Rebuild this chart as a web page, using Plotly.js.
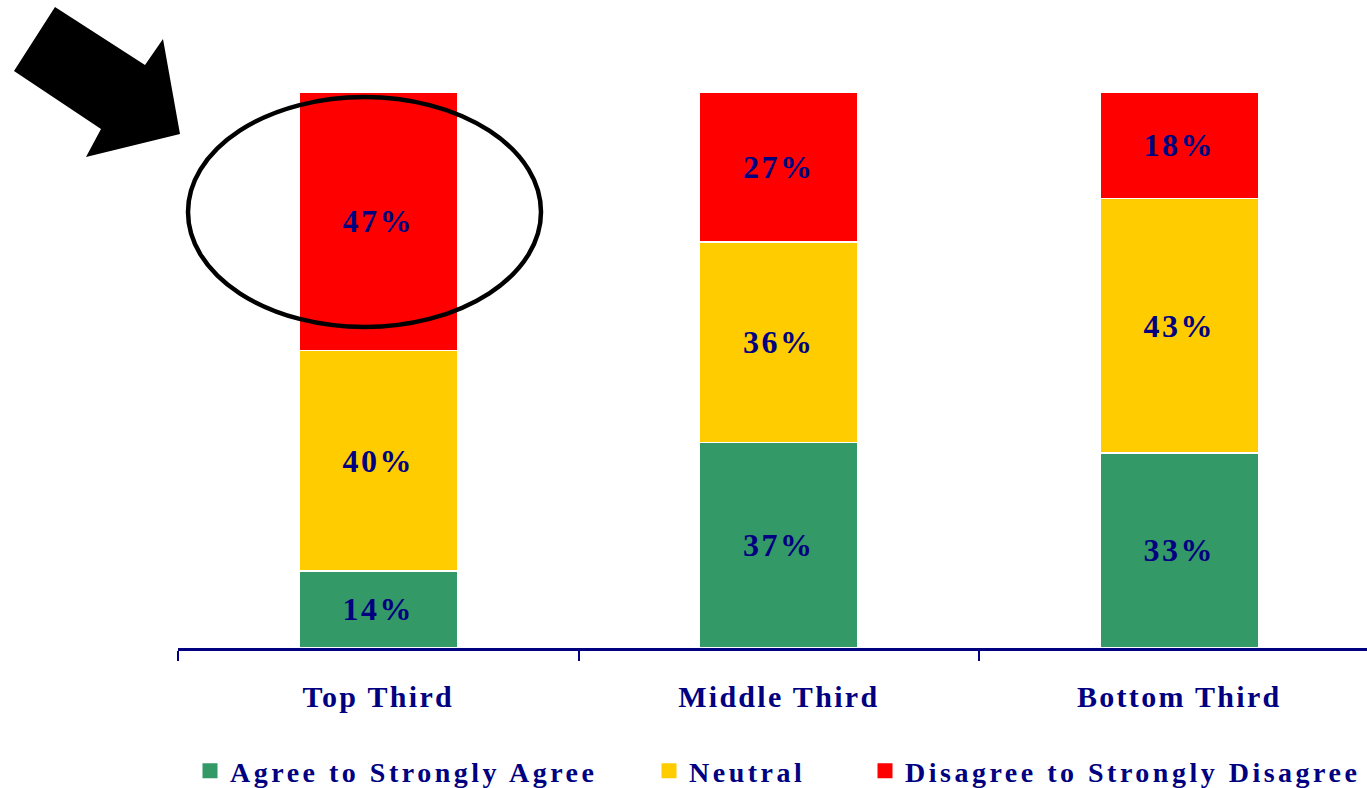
<!DOCTYPE html>
<html>
<head>
<meta charset="utf-8">
<script src="https://cdn.plot.ly/plotly-3.0.1.min.js"></script>
<style>
html,body{margin:0;padding:0;overflow:hidden;background:#fff;}
#chart{width:1367px;height:788px;}
text.legendtext, text.legend2text, text.legend3text, .legend text, .legend2 text, .legend3 text{letter-spacing:3.5px;}
.xtick text{letter-spacing:2.3px;}
text.bartext{letter-spacing:2.5px;}
g.legend .legendpoints path{stroke:#339966 !important;stroke-width:3px !important;}
g.legend2 .legendpoints path{stroke:#FFCC00 !important;stroke-width:3px !important;}
g.legend3 .legendpoints path{stroke:#FF0000 !important;stroke-width:3px !important;}
</style>
</head>
<body>
<div id="chart"></div>
<script>
const categories = ["Top Third", "Middle Third", "Bottom Third"];
const seriesNames = ["Agree to Strongly Agree", "Neutral", "Disagree to Strongly Disagree"];
const agree = [14, 37, 33];
const neutral = [40, 36, 43];
const disagree = [47, 27, 18];
const seriesColors = ["#339966", "#FFCC00", "#FF0000"];

const navy = "#000080";
const serif = "Liberation Serif, Times New Roman, serif";

const W = 1367, H = 788, ML = 178, MT = 92, MB = 140, MR = 0;
const PW = W - ML - MR, PH = H - MT - MB;
const px = x => (x - ML) / PW;
const py = y => (H - MB - y) / PH;

const allSeries = [agree, neutral, disagree];
const legends = ["legend", "legend2", "legend3"];
const traces = allSeries.map((vals, i) => ({
  type: "bar",
  name: seriesNames[i],
  x: categories,
  y: vals,
  text: vals.map(v => v + "%"),
  textposition: "inside",
  insidetextanchor: "middle",
  textangle: 0,
  textfont: {family: serif, size: 32, color: navy, weight: "bold"},
  marker: {color: seriesColors[i], line: {color: "#ffffff", width: 1.5}},
  hoverinfo: "skip",
  legend: legends[i]
}));

const arrowPts = [[55,7],[145,65],[163,39],[180,134],[86,157],[101,129],[14,71]];
const arrowPath = "M" + arrowPts.map(p => px(p[0]).toFixed(5) + "," + py(p[1]).toFixed(5)).join("L") + "Z";

const legFont = {family: serif, size: 28, color: navy, weight: "bold"};
function leg(x) {
  return {orientation: "h", x: px(x), xanchor: "left", y: py(771), yanchor: "middle",
          font: legFont, bgcolor: "rgba(0,0,0,0)", itemwidth: 30, traceorder: "normal"};
}

const layout = {
  width: W, height: H,
  margin: {l: ML, r: MR, t: MT, b: MB, autoexpand: false},
  paper_bgcolor: "#ffffff",
  plot_bgcolor: "#ffffff",
  barmode: "stack",
  barnorm: "percent",
  bargap: 0.605,
  showlegend: true,
  xaxis: {
    type: "category",
    range: [-0.5, -0.5 + PW / 400.5],
    showline: true, linecolor: navy, linewidth: 2.5,
    ticks: "outside", tickson: "boundaries", ticklen: 10, tickwidth: 2, tickcolor: navy,
    tickfont: {family: serif, size: 30, color: navy, weight: "bold"},
    ticklabelstandoff: 20,
    showgrid: false, zeroline: false, fixedrange: true
  },
  yaxis: {
    range: [0, 100], visible: false, showgrid: false, zeroline: false, fixedrange: true
  },
  legend: leg(190),
  legend2: leg(649),
  legend3: leg(865),
  shapes: [
    {type: "path", xref: "paper", yref: "paper", path: arrowPath,
     fillcolor: "#000000", line: {color: "#000000", width: 0}},
    {type: "circle", xref: "paper", yref: "paper",
     x0: px(188), x1: px(541), y0: py(327), y1: py(97),
     line: {color: "#000000", width: 4.5}, fillcolor: "rgba(0,0,0,0)"}
  ]
};

Plotly.newPlot("chart", traces, layout, {displayModeBar: false, staticPlot: true});
</script>
</body>
</html>
